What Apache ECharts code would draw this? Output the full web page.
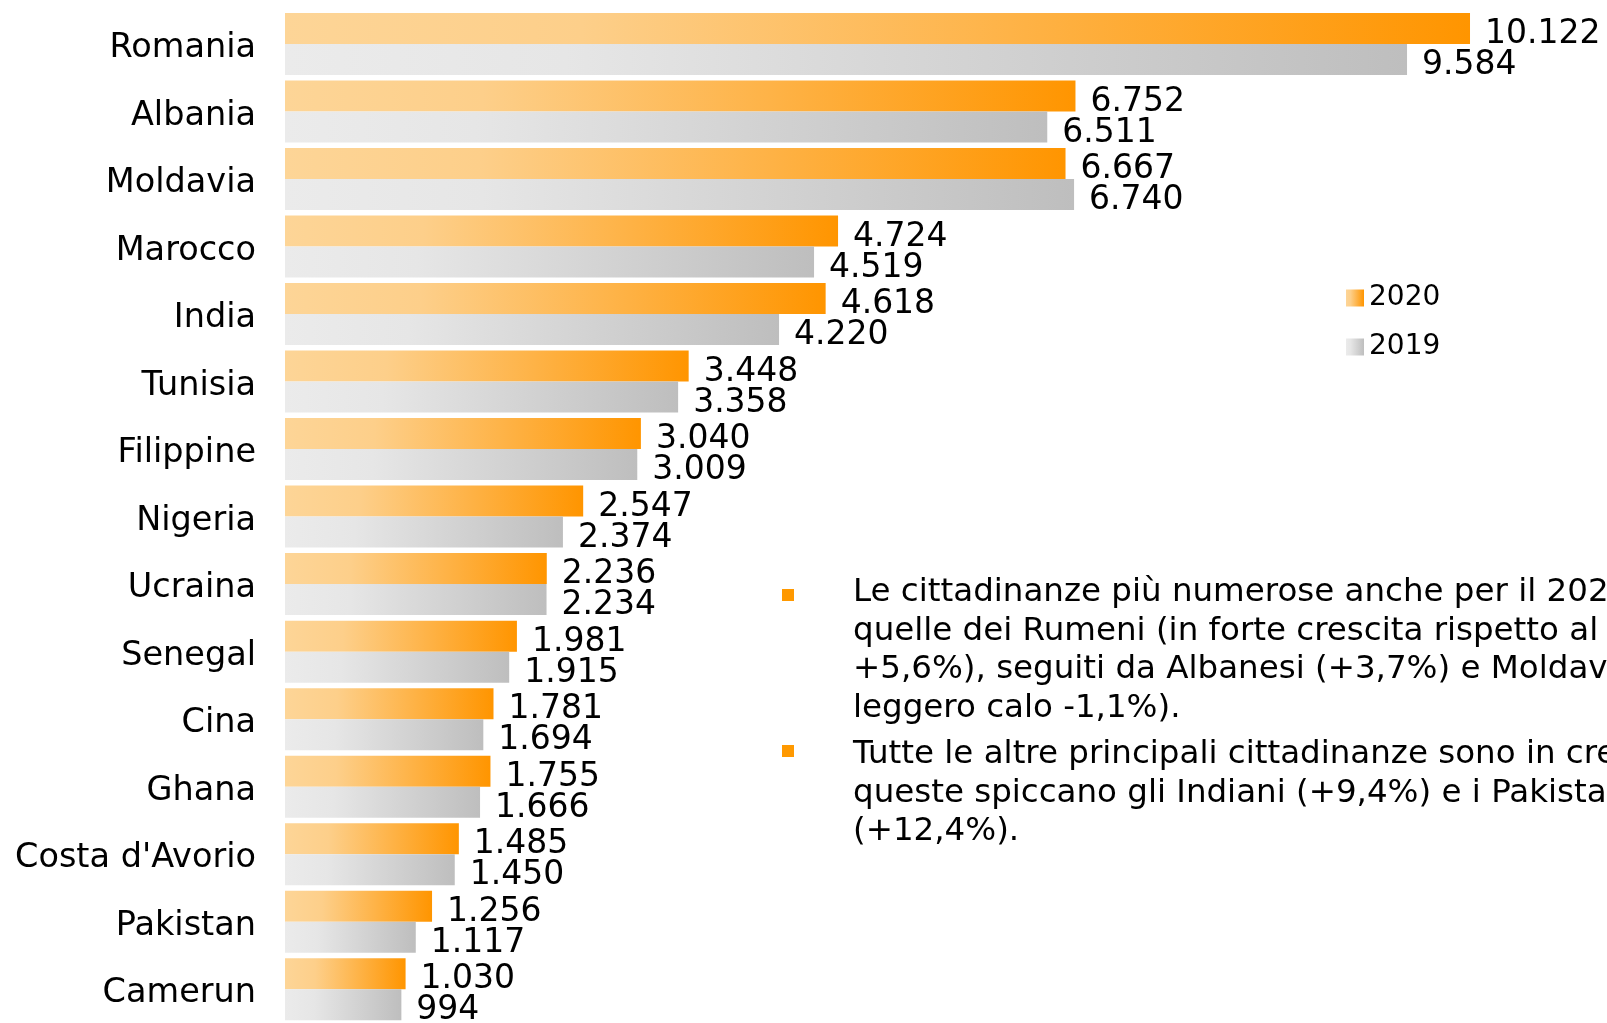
<!DOCTYPE html>
<html>
<head>
<meta charset="utf-8">
<script src="https://cdn.jsdelivr.net/npm/echarts@6/dist/echarts.min.js"></script>
<style>
html,body{margin:0;padding:0;background:#fff;}
#chart{width:1607px;height:1023px;}
</style>
</head>
<body>
<div id="chart"></div>
<script>
const categories = ["Romania","Albania","Moldavia","Marocco","India","Tunisia","Filippine","Nigeria","Ucraina","Senegal","Cina","Ghana","Costa d'Avorio","Pakistan","Camerun"];
const values2020 = [10122,6752,6667,4724,4618,3448,3040,2547,2236,1981,1781,1755,1485,1256,1030];
const values2019 = [9584,6511,6740,4519,4220,3358,3009,2374,2234,1915,1694,1666,1450,1117,994];
const seriesNames = ["2020","2019"];
const paragraph1 = ["Le cittadinanze più numerose anche per il 2020 sono","quelle dei Rumeni (in forte crescita rispetto al 2019:","+5,6%), seguiti da Albanesi (+3,7%) e Moldavi (in","leggero calo -1,1%)."];
const paragraph2 = ["Tutte le altre principali cittadinanze sono in crescita; tra","queste spiccano gli Indiani (+9,4%) e i Pakistani","(+12,4%)."];

const FONT = "'DejaVu Sans', Verdana, sans-serif";
const fmt = v => String(v).replace(/\B(?=(\d{3})+(?!\d))/g, '.');

const orangeGrad = new echarts.graphic.LinearGradient(0,0,1,0,[
  {offset:0,color:'#FDD597'},{offset:0.25,color:'#FDCF8A'},{offset:1,color:'#FF9500'}]);
const grayGrad = new echarts.graphic.LinearGradient(0,0,1,0,[
  {offset:0,color:'#EBEBEB'},{offset:0.25,color:'#E6E6E6'},{offset:1,color:'#BEBEBE'}]);

const chart = echarts.init(document.getElementById('chart'), null, {renderer:'canvas'});

const graphics = [];
const LINE_H = 38.4;
const TX = 853;
function addPara(lines, firstBaseline, bulletY){
  graphics.push({type:'rect', shape:{x:782, y:bulletY, width:12, height:12}, style:{fill:'#FF9900'}});
  lines.forEach((t,i)=>{
    graphics.push({type:'text', x:TX, y:firstBaseline + i*LINE_H - 10,
      style:{text:t, font:"32.5px " + FONT, fill:'#000', textAlign:'left', textVerticalAlign:'middle'}});
  });
}
addPara(paragraph1, 603, 589);
addPara(paragraph2, 765, 745);

const labelCommon = {show:true, position:'right', distance:15, fontSize:33, fontFamily:FONT, color:'#000',
  offset:[0,6], formatter:p=>fmt(p.value)};

chart.setOption({
  animation:false,
  backgroundColor:'#fff',
  legend:{
    orient:'vertical', left:1346, top:284, padding:0, itemWidth:18, itemHeight:17, itemGap:21, itemTextGap:12,
    icon:'rect',
    data:seriesNames, textStyle:{fontSize:28, fontFamily:FONT, color:'#000'}
  },
  grid:{left:285, top:10.2, width:1287.8, height:1014.6, containLabel:false},
  xAxis:{type:'value', min:0, max:11000, show:false},
  yAxis:{type:'category', inverse:true, data:categories,
    axisLine:{show:false}, axisTick:{show:false}, splitLine:{show:false},
    axisLabel:{fontSize:33.5, fontFamily:FONT, color:'#000', margin:29, verticalAlign:'top', lineHeight:9}},
  series:[
    {name:seriesNames[0], type:'bar', data:values2020, barWidth:31, barGap:'0%',
     itemStyle:{color:orangeGrad}, label:labelCommon},
    {name:seriesNames[1], type:'bar', data:values2019, barWidth:31, barGap:'0%',
     itemStyle:{color:grayGrad}, label:labelCommon}
  ],
  graphic:graphics
});
</script>
</body>
</html>
